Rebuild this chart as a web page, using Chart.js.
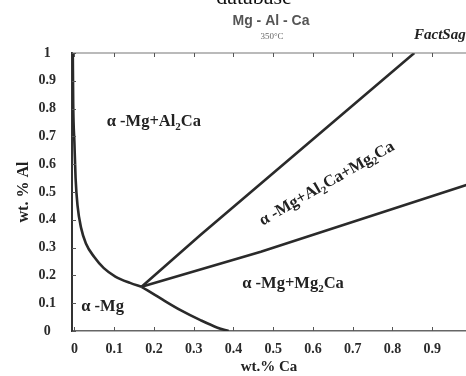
<!DOCTYPE html>
<html>
<head>
<meta charset="utf-8">
<script src="https://cdn.jsdelivr.net/npm/chart.js@4/dist/chart.umd.min.js"></script>
<style>
  html, body { margin: 0; padding: 0; background: #fff; }
  canvas { display: block; }
</style>
</head>
<body>
<canvas id="chart" width="466" height="376"></canvas>
<script>
// axis ticks
const xTicks = [0, 0.1, 0.2, 0.3, 0.4, 0.5, 0.6, 0.7, 0.8, 0.9];
const xTickLabels = ['0', '0.1', '0.2', '0.3', '0.4', '0.5', '0.6', '0.7', '0.8', '0.9'];
const yTicks = [0, 0.1, 0.2, 0.3, 0.4, 0.5, 0.6, 0.7, 0.8, 0.9, 1];
const yTickLabels = ['0', '0.1', '0.2', '0.3', '0.4', '0.5', '0.6', '0.7', '0.8', '0.9', '1'];

// phase boundaries (wt.% Ca, wt.% Al)
const mgAlBoundaryX = [-0.004, -0.003, 0.0, 0.003, 0.008, 0.017, 0.029, 0.05, 0.074, 0.103, 0.14, 0.169];
const mgAlBoundaryY = [1.0, 0.82, 0.68, 0.55, 0.45, 0.37, 0.315, 0.266, 0.226, 0.196, 0.173, 0.159];
const mgCaBoundaryX = [0.169, 0.217, 0.267, 0.317, 0.36, 0.388];
const mgCaBoundaryY = [0.159, 0.117, 0.075, 0.039, 0.012, 0];
const al2caTieX = [0.169, 0.317, 0.855];
const al2caTieY = [0.159, 0.345, 1.0];
const mg2caTieX = [0.169, 0.469, 0.99];
const mg2caTieY = [0.159, 0.285, 0.527];

// region names ("_2" = subscript)
const regionNames = ['α -Mg+Al_2Ca', 'α -Mg+Al_2Ca+Mg_2Ca', 'α -Mg+Mg_2Ca', 'α -Mg'];
const regionX = [0.2, 0.635, 0.55, 0.071];
const regionY = [0.752, 0.53, 0.17, 0.088];
const regionAngle = [0, -30, 0, 0];

const serif = "'Liberation Serif', 'Times New Roman', serif";
const lineColor = '#2a2a2a';

function pts(xs, ys) {
    return xs.map((x, i) => ({ x: x, y: ys[i] }));
}

function line(ctx, x1, y1, x2, y2) {
    ctx.beginPath();
    ctx.moveTo(x1, y1);
    ctx.lineTo(x2, y2);
    ctx.stroke();
}

// text with _N subscripts, centred at 0,0
function drawRich(ctx, str, size) {
    const parts = str.split(/_(\d)/);
    const big = `bold ${size}px ${serif}`;
    const small = `bold ${Math.round(size * 0.68)}px ${serif}`;
    let total = 0;
    parts.forEach((p, i) => {
        ctx.font = i % 2 ? small : big;
        total += ctx.measureText(p).width;
    });
    let cx = -total / 2;
    ctx.textBaseline = 'middle';
    ctx.textAlign = 'left';
    parts.forEach((p, i) => {
        ctx.font = i % 2 ? small : big;
        ctx.fillText(p, cx, i % 2 ? size * 0.3 : 0);
        cx += ctx.measureText(p).width;
    });
}

const decor = {
    id: 'decor',
    afterDraw(chart) {
        const { ctx, chartArea: a } = chart;
        const xs = chart.scales.x, ys = chart.scales.y;
        ctx.save();

        // top frame line
        ctx.strokeStyle = '#777';
        ctx.lineWidth = 1.2;
        line(ctx, a.left, a.top, a.right, a.top);

        // inward tick marks
        ctx.strokeStyle = '#555';
        ctx.lineWidth = 1;
        xTicks.forEach(v => {
            const px = Math.round(xs.getPixelForValue(v)) + 0.5;
            line(ctx, px, a.bottom, px, a.bottom - 4);
            line(ctx, px, a.top, px, a.top + 4);
        });
        yTicks.forEach(v => {
            const py = Math.round(ys.getPixelForValue(v)) + 0.5;
            line(ctx, a.left, py, a.left + 4, py);
        });

        // region labels
        ctx.fillStyle = '#222';
        regionNames.forEach((name, i) => {
            ctx.save();
            ctx.translate(xs.getPixelForValue(regionX[i]), ys.getPixelForValue(regionY[i]));
            ctx.rotate(regionAngle[i] * Math.PI / 180);
            drawRich(ctx, name, 16.5);
            ctx.restore();
        });

        // header (partly cut off at top)
        ctx.textAlign = 'center';
        ctx.textBaseline = 'alphabetic';
        ctx.fillStyle = '#111';
        ctx.font = `22px ${serif}`;
        ctx.fillText('database', 254, 4);

        ctx.fillStyle = '#555';
        ctx.font = "bold 14px 'Liberation Sans', Arial, sans-serif";
        ctx.textBaseline = 'middle';
        ctx.fillText('Mg - Al - Ca', 271, 21);

        ctx.fillStyle = '#666';
        ctx.font = `9px ${serif}`;
        ctx.fillText('350°C', 272, 37);

        ctx.fillStyle = '#222';
        ctx.textAlign = 'left';
        ctx.font = `italic bold 15px ${serif}`;
        ctx.fillText('FactSage', 414, 35);

        ctx.restore();
    }
};

const lineStyle = {
    showLine: true,
    borderColor: lineColor,
    borderWidth: 2.6,
    pointRadius: 0,
    fill: false
};

new Chart(document.getElementById('chart'), {
    type: 'scatter',
    data: {
        datasets: [
            { ...lineStyle, data: pts(mgAlBoundaryX, mgAlBoundaryY), cubicInterpolationMode: 'monotone' },
            { ...lineStyle, data: pts(mgCaBoundaryX, mgCaBoundaryY), cubicInterpolationMode: 'monotone' },
            { ...lineStyle, data: pts(al2caTieX, al2caTieY) },
            { ...lineStyle, data: pts(mg2caTieX, mg2caTieY) }
        ]
    },
    options: {
        responsive: false,
        animation: false,
        events: [],
        layout: { padding: { top: 53, left: 0, right: 0, bottom: 0 } },
        plugins: { legend: { display: false }, tooltip: { enabled: false } },
        scales: {
            x: {
                type: 'linear',
                min: -0.006,
                max: 0.985,
                afterBuildTicks: s => { s.ticks = xTicks.map(v => ({ value: v })); },
                afterFit: s => { s.height = 45; },
                grid: { display: false, drawTicks: false },
                border: { display: true, color: '#666', width: 1.5 },
                ticks: {
                    padding: 10,
                    maxRotation: 0,
                    autoSkip: false,
                    color: '#2a2a2a',
                    font: { family: serif, weight: 'bold', size: 14 },
                    callback: (v, i) => xTickLabels[i]
                },
                title: {
                    display: true,
                    text: 'wt.% Ca',
                    color: '#222',
                    font: { family: serif, weight: 'bold', size: 15 },
                    padding: { top: 0, bottom: 0 }
                }
            },
            y: {
                type: 'linear',
                min: 0,
                max: 1,
                afterBuildTicks: s => { s.ticks = yTicks.map(v => ({ value: v })); },
                afterFit: s => { s.width = 72; },
                grid: { display: false, drawTicks: false },
                border: { display: true, color: '#333', width: 2 },
                ticks: {
                    crossAlign: 'center',
                    padding: 16,
                    color: '#2a2a2a',
                    font: { family: serif, weight: 'bold', size: 14 },
                    callback: (v, i) => yTickLabels[i]
                },
                title: {
                    display: true,
                    text: 'wt. % Al',
                    color: '#222',
                    font: { family: serif, weight: 'bold', size: 16 },
                    padding: { top: 14, bottom: 0 }
                }
            }
        }
    },
    plugins: [decor]
});
</script>
</body>
</html>
